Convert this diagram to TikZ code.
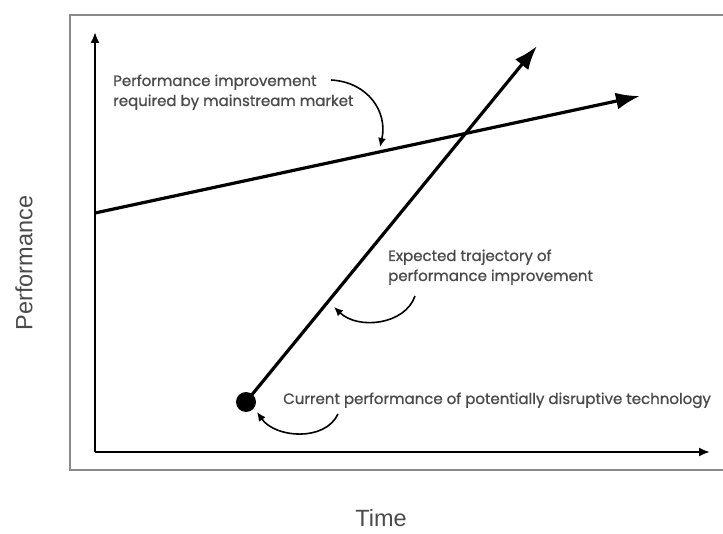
\documentclass[tikz,border=0pt]{standalone}
\usepackage{fontspec}
\setmainfont[FakeBold=0.9]{Poppins}
\newfontfamily\axisfont{Liberation Sans}
\usetikzlibrary{arrows.meta}
\definecolor{txt}{HTML}{4A4A4A}
\definecolor{framec}{HTML}{8A8A8A}
\begin{document}
\begin{tikzpicture}[x=1pt,y=-1pt,
  lbl/.style={text=txt, font=\fontsize{15}{20}\selectfont, inner sep=0pt, align=left},
  axlbl/.style={text=txt, font=\axisfont\fontsize{23.5}{26}\selectfont, inner sep=0pt},
  axis/.style={line width=2pt, -{Latex[length=11pt,width=9pt]}},
  trend/.style={line width=3.2pt, -{Latex[length=24pt,width=17pt]}},
  callout/.style={line width=1.6pt, -{Latex[length=9pt,width=8pt]}}]
  \useasboundingbox (0,0) rectangle (723,534);
  % outer frame, running off the right edge
  \draw[framec, line width=1.5pt] (730,15) -- (70,15) -- (70,470) -- (730,470);
  % axes
  \coordinate (o) at (95,452);
  \coordinate (ytop) at (95,32);
  \coordinate (xend) at (710,452);
  \draw[axis] (o) -- (ytop);
  \draw[axis] (o) -- (xend);
  \node[axlbl, rotate=90] (ylab) at (24,263) {Performance};
  \node[axlbl] (xlab) at (381,518) {Time};
  % mainstream requirement
  \coordinate (m0) at (95,213);
  \coordinate (m1) at (640,96);
  \draw[trend] (m0) -- (m1);
  % disruptive technology trajectory
  \node[circle, fill=black, minimum size=20pt, inner sep=0pt] (dot) at (246,402) {};
  \coordinate (d1) at (537,46);
  \draw[trend] (dot.center) -- (d1);
  % annotations (base anchor sits on the last line)
  \node[lbl, anchor=base west] (t1) at (113,106) {Performance improvement\\required by mainstream market};
  \node[lbl, anchor=base west] (t2) at (388,281) {Expected trajectory of\\performance improvement};
  \node[lbl, anchor=base west] (t3) at (283,404) {Current performance of potentially disruptive technology};
  \coordinate (s1) at (331,80);
  \coordinate (a1) at (380,147);
  \coordinate (s2) at (415,296);
  \coordinate (a2) at (334,307);
  \coordinate (s3) at (338,414);
  \coordinate (a3) at (257,412);
  \draw[callout] (s1) .. controls (368,82) and (388,112) .. (a1);
  \draw[callout] (s2) .. controls (405,325) and (358,330) .. (a2);
  \draw[callout] (s3) .. controls (325,442) and (275,438) .. (a3);
\end{tikzpicture}
\end{document}
